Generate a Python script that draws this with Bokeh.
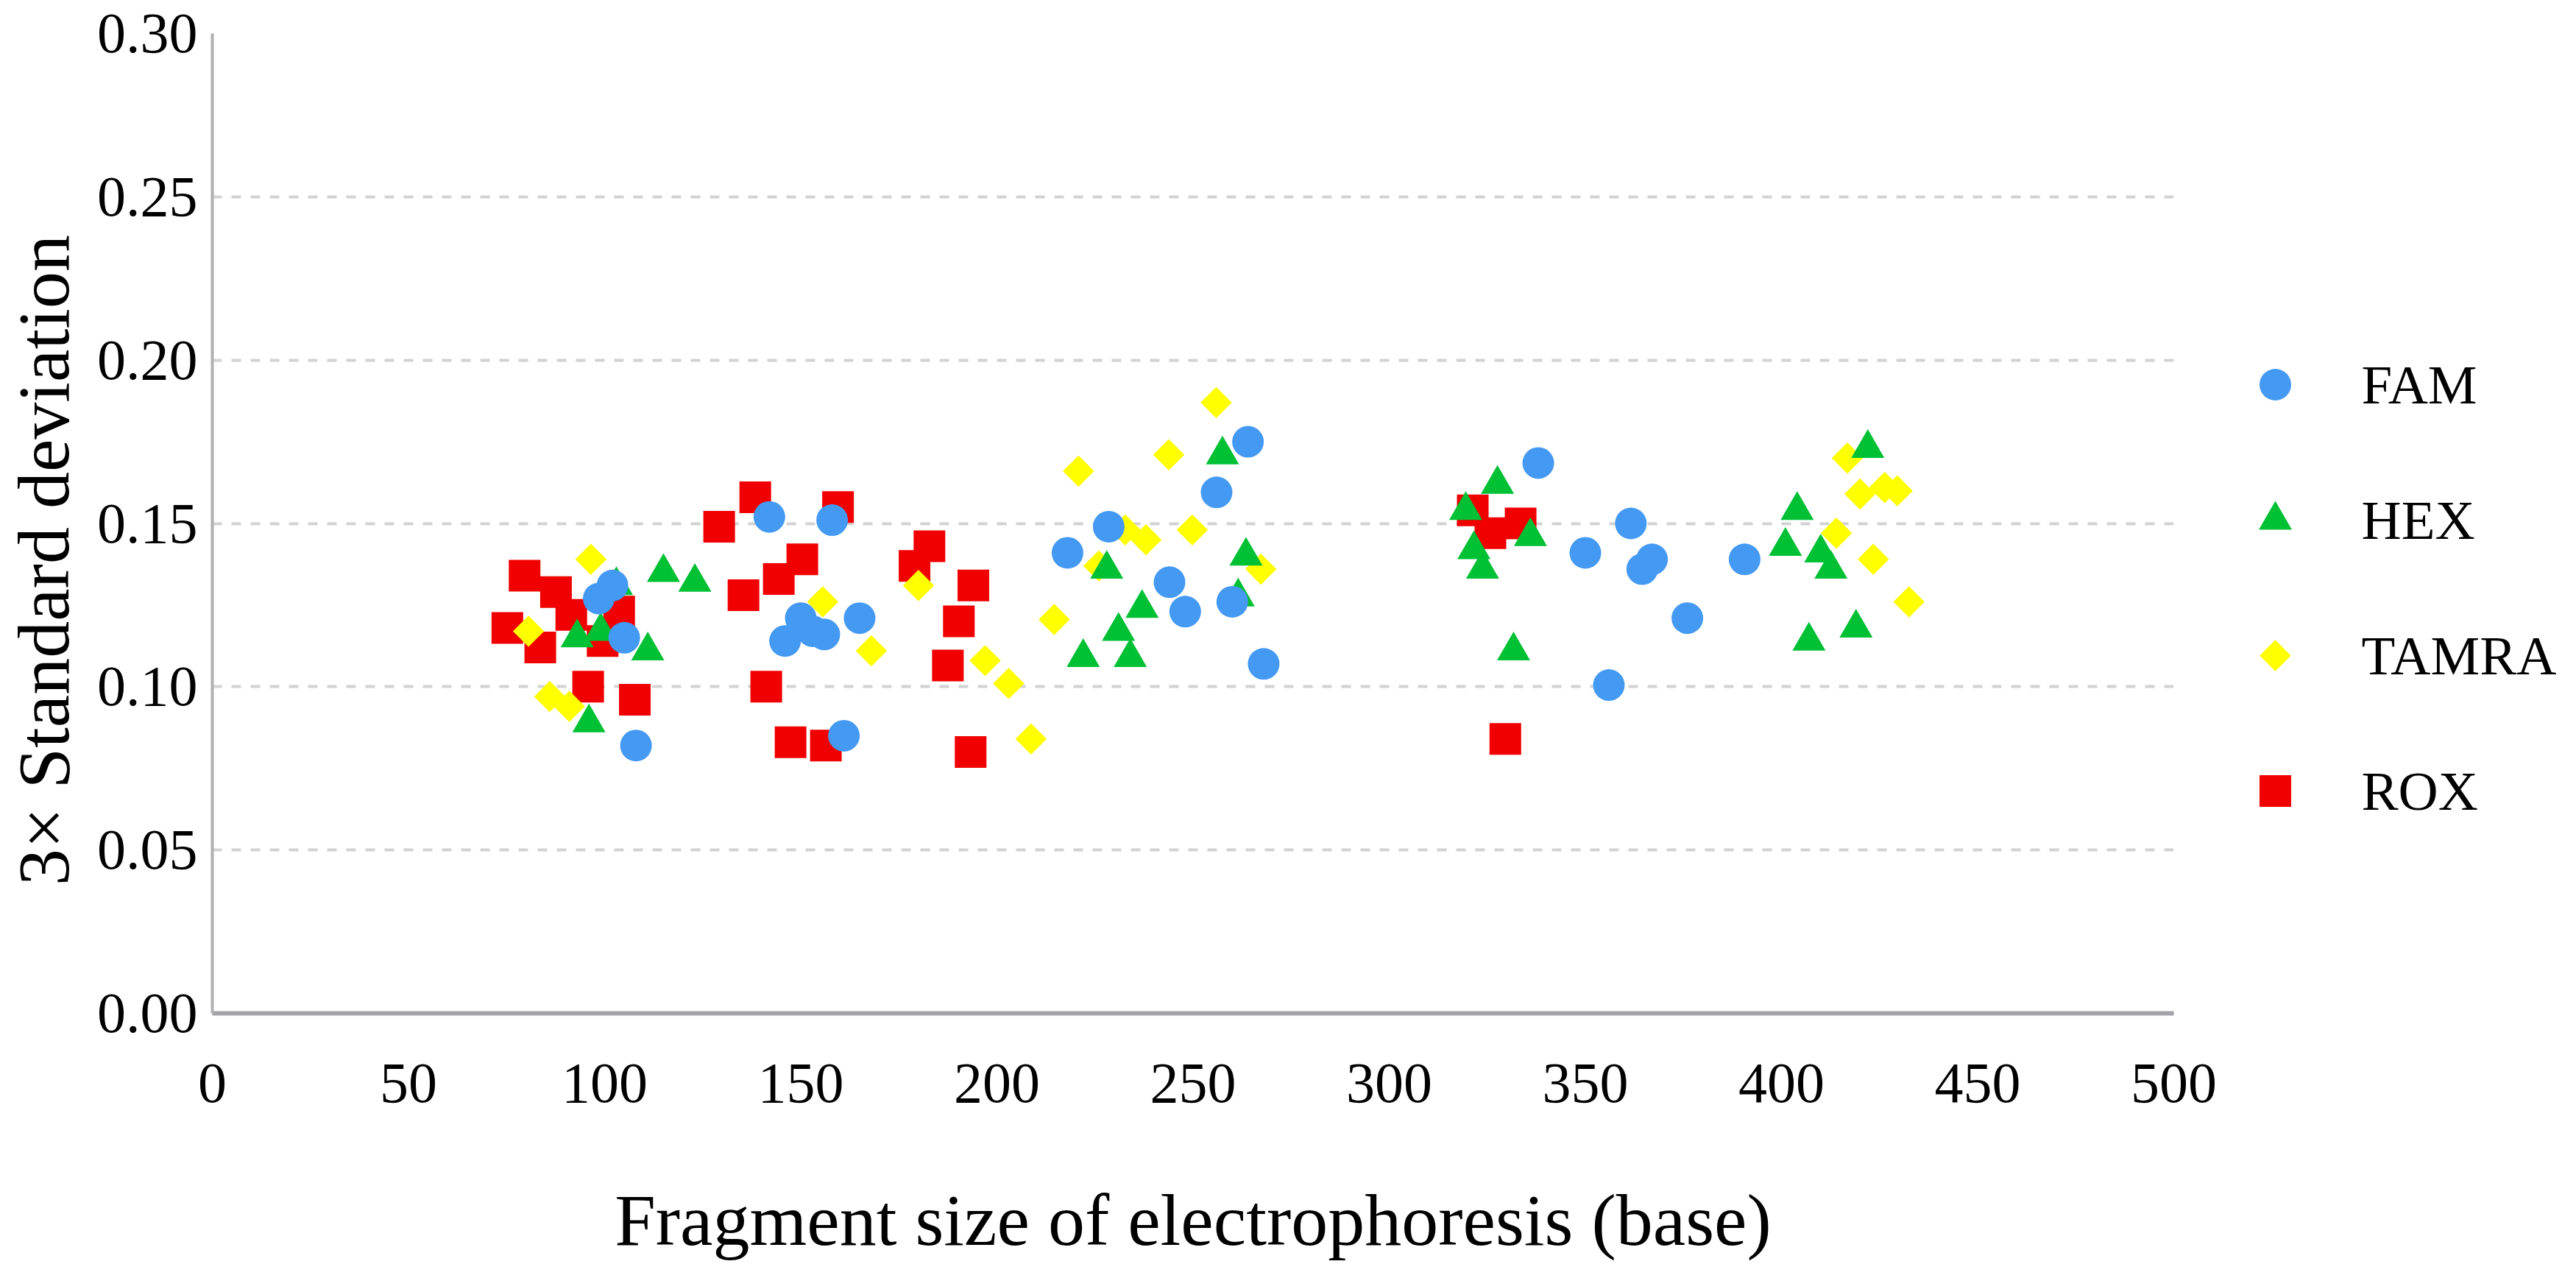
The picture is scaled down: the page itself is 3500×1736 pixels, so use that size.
from bokeh.plotting import figure
from bokeh.layouts import row
from bokeh.models import Range1d, FixedTicker, NumeralTickFormatter, ColumnDataSource
from bokeh.core.properties import value
from bokeh.embed import file_html
from bokeh.resources import INLINE
import math

# ---------------- data ----------------
fam_x = [102, 98.5, 105, 108, 142, 158, 146, 150, 153, 156, 165, 161,
         218, 228.5, 244, 248, 256, 264, 260, 268,
         338, 361.6, 350, 367, 364.5, 390.6, 376, 356]
fam_y = [0.131, 0.127, 0.115, 0.082, 0.152, 0.151, 0.114, 0.121, 0.117, 0.116, 0.121, 0.085,
         0.141, 0.149, 0.132, 0.123, 0.1595, 0.175, 0.126, 0.107,
         0.1685, 0.150, 0.141, 0.139, 0.136, 0.139, 0.121, 0.1005]

hex_x = [115, 123, 93, 99, 111, 96, 103,
         228, 237, 231, 222, 234, 257.5, 263.5, 261.5,
         327.6, 319.5, 321.6, 323.8, 336, 331.7,
         404, 401, 410, 412.6, 422, 419, 407]
hex_y = [0.135, 0.132, 0.115, 0.117, 0.111, 0.089, 0.131,
         0.136, 0.124, 0.117, 0.109, 0.109, 0.171, 0.140, 0.1275,
         0.162, 0.154, 0.142, 0.136, 0.146, 0.111,
         0.154, 0.143, 0.141, 0.136, 0.173, 0.118, 0.114]

tamra_x = [96.5, 80.6, 86, 91, 155.6, 168, 180, 197, 203, 208.7,
           214.6, 220.8, 226, 232.7, 238, 243.8, 249.8, 255.9, 267.3,
           416.8, 420, 426.3, 429.5, 414, 423.4, 432.5]
tamra_y = [0.139, 0.117, 0.097, 0.094, 0.126, 0.111, 0.131, 0.108, 0.101, 0.084,
           0.1206, 0.166, 0.137, 0.148, 0.145, 0.171, 0.148, 0.187, 0.136,
           0.170, 0.159, 0.161, 0.160, 0.147, 0.139, 0.126]

rox_x = [79.6, 87.6, 91.5, 75.2, 83.6, 103.7, 99.5, 95.8, 107.7,
         138.4, 129.2, 159.5, 150.4, 144.4, 135.4, 141.2, 147.4, 156.4,
         182.8, 179, 194, 190.3, 187.5, 193.3,
         321.3, 325.8, 333.5, 329.6]
rox_y = [0.134, 0.129, 0.122, 0.118, 0.112, 0.123, 0.114, 0.100, 0.096,
         0.158, 0.149, 0.155, 0.139, 0.133, 0.128, 0.100, 0.083, 0.082,
         0.143, 0.137, 0.131, 0.120, 0.1065, 0.080,
         0.154, 0.147, 0.150, 0.084]

series_names = ["FAM", "HEX", "TAMRA", "ROX"]
x_ticks = [0, 50, 100, 150, 200, 250, 300, 350, 400, 450, 500]
y_ticks = [0.0, 0.05, 0.1, 0.15, 0.2, 0.25, 0.3]

# ---------------- styling ----------------
C_FAM = "#4499F2"
C_HEX = "#00C034"
C_TAMRA = "#FFFF00"
C_ROX = "#F00000"
series_colors = [C_FAM, C_HEX, C_TAMRA, C_ROX]
series_markers = ["circle", "triangle", "square", "square"]
series_angles = [0.0, 0.0, math.pi / 4, 0.0]
series_sizes = [43, 45, 30, 43]
FONT = "Liberation Serif"

H = 1720
WM = 3030            # main chart width
WL = 3484 - WM       # legend panel width
FL, FT, FW, FH = 283, 45, 2670, 1331
FB = H - FT - FH

p = figure(width=WM, height=H, x_range=Range1d(0, 500), y_range=Range1d(0, 0.30),
           output_backend="svg", toolbar_location=None,
           min_border_left=FL, min_border_top=FT,
           min_border_right=WM - FL - FW, min_border_bottom=FB)
p.outline_line_color = None
p.background_fill_color = "white"
p.border_fill_color = "white"

p.xgrid.visible = False
p.ygrid.grid_line_color = "#d2d2d2"
p.ygrid.grid_line_width = 4
p.ygrid.grid_line_dash = "13 13"

p.xaxis.ticker = FixedTicker(ticks=x_ticks)
p.yaxis.ticker = FixedTicker(ticks=y_ticks)
p.yaxis.formatter = NumeralTickFormatter(format="0.00")

for ax in (p.xaxis[0], p.yaxis[0]):
    ax.major_tick_line_color = None
    ax.minor_tick_line_color = None
    ax.major_label_text_font = FONT
    ax.major_label_text_font_size = "78px"
    ax.major_label_text_color = "black"
    ax.axis_label_text_font = FONT
    ax.axis_label_text_font_style = "normal"
    ax.axis_label_text_font_size = "100px"
    ax.axis_label_text_color = "black"

p.xaxis.axis_line_color = "#a3a3a8"
p.xaxis.axis_line_width = 6
p.yaxis.axis_line_color = "#b0b0b0"
p.yaxis.axis_line_width = 4
p.xaxis.major_label_standoff = 63
p.yaxis.major_label_standoff = 14
p.xaxis.axis_label = "Fragment size of electrophoresis (base)"
# trailing no-break spaces nudge the centred label slightly down, as in the reference
p.yaxis.axis_label = "3\u00d7 Standard deviation" + "\u00a0" * 4
p.xaxis.axis_label_standoff = 102
p.yaxis.axis_label_standoff = 14

src_fam = ColumnDataSource(dict(x=fam_x, y=fam_y))
src_hex = ColumnDataSource(dict(x=hex_x, y=hex_y))
src_tamra = ColumnDataSource(dict(x=tamra_x, y=tamra_y))
src_rox = ColumnDataSource(dict(x=rox_x, y=rox_y))

# drawing order: ROX, TAMRA, HEX, FAM (FAM on top)
p.scatter("x", "y", source=src_rox, marker=series_markers[3], size=series_sizes[3],
          fill_color=C_ROX, line_color=None)
p.scatter("x", "y", source=src_tamra, marker=series_markers[2], angle=series_angles[2],
          size=series_sizes[2], fill_color=C_TAMRA, line_color=None)
p.scatter("x", "y", source=src_hex, marker=series_markers[1], size=series_sizes[1],
          fill_color=C_HEX, line_color=None)
p.scatter("x", "y", source=src_fam, marker=series_markers[0], size=series_sizes[0],
          fill_color=C_FAM, line_color=None)

# ---------------- legend panel: one row per series, one unit per row ----------------
LEG_X = 61          # marker centre, px from the panel's left edge
LEG_TEXT_DX = 117   # label start, px right of the marker centre
ROW_H = 184         # px per legend row
FIRST_ROW_PX = 530 - 8 - FT   # first row centre, px below the frame top
n = len(series_names)
leg_row = [n - 1 - i for i in range(n)]           # FAM on top ... ROX at the bottom
y_top = (n - 1) + FIRST_ROW_PX / ROW_H
y_bottom = y_top - FH / ROW_H

pl = figure(width=WL, height=H,
            x_range=Range1d(-LEG_X, WL - LEG_X),
            y_range=Range1d(y_bottom, y_top),
            output_backend="svg", toolbar_location=None,
            min_border_left=0, min_border_right=0,
            min_border_top=FT, min_border_bottom=FB)
pl.axis.visible = False
pl.grid.visible = False
pl.outline_line_color = None
pl.background_fill_color = "white"
pl.border_fill_color = "white"

leg_src = ColumnDataSource(dict(
    x=[0] * n, y=leg_row, name=series_names, marker=series_markers,
    angle=series_angles, size=series_sizes, color=series_colors))
pl.scatter("x", "y", source=leg_src, marker="marker", angle="angle", size="size",
           fill_color="color", line_color=None)
pl.text("x", "y", text="name", source=leg_src, x_offset=LEG_TEXT_DX,
        text_baseline="middle", text_align="left", text_font=value(FONT),
        text_font_size=value("75px"), text_color="black")

layout = row(p, pl)
open("out.html", "w").write(file_html(layout, INLINE))
